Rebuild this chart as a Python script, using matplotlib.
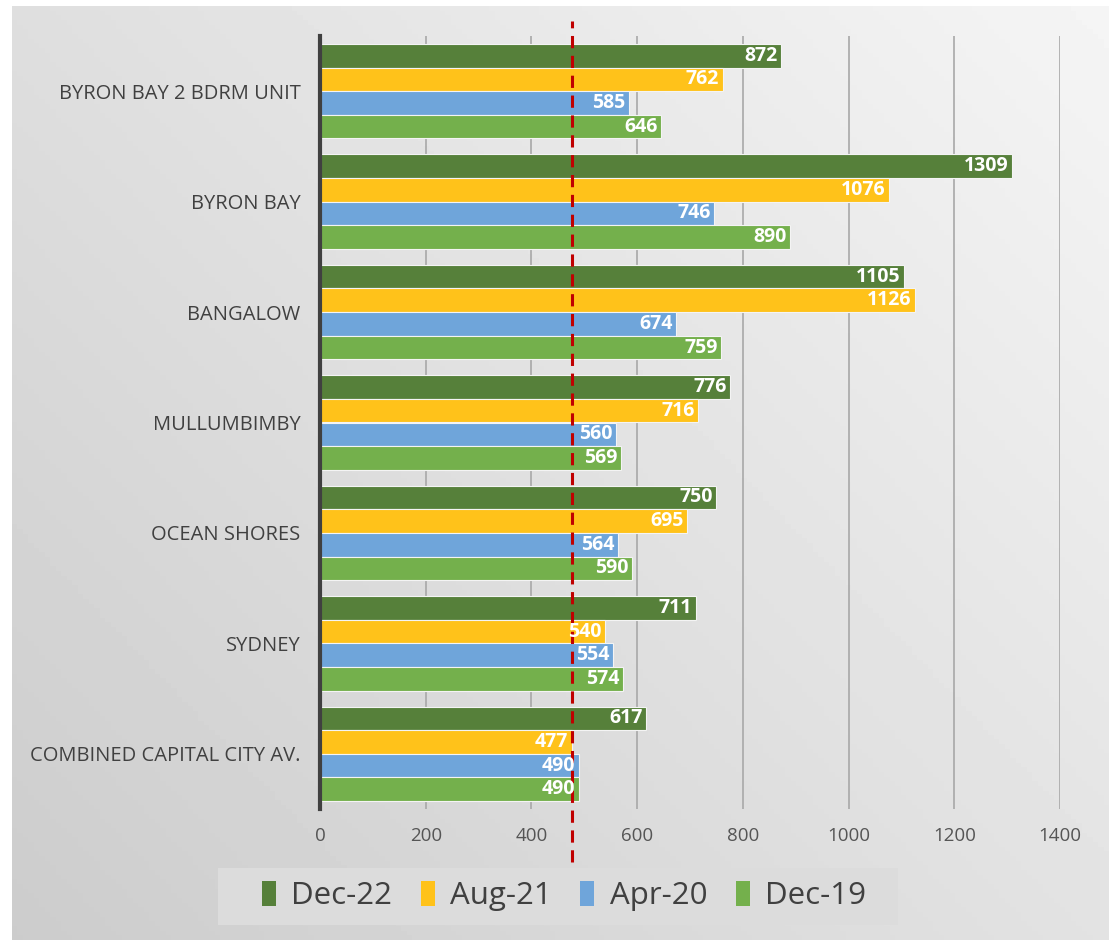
import numpy as np
import matplotlib.pyplot as plt
from matplotlib.patches import Patch, Rectangle

categories = ["BYRON BAY 2 BDRM UNIT", "BYRON BAY", "BANGALOW", "MULLUMBIMBY",
              "OCEAN SHORES", "SYDNEY", "COMBINED CAPITAL CITY AV."]
series = ["Dec-22", "Aug-21", "Apr-20", "Dec-19"]
dec22 = [872, 1309, 1105, 776, 750, 711, 617]
aug21 = [762, 1076, 1126, 716, 695, 540, 477]
apr20 = [585, 746, 674, 560, 564, 554, 490]
dec19 = [646, 890, 759, 569, 590, 574, 490]
ref_value = 477
colors = ["#56803A", "#FFC21A", "#6FA5DA", "#74B04C"]

plt.rcParams['font.family'] = ['Open Sans', 'DejaVu Sans']

W, H = 1109, 946
fig = plt.figure(figsize=(W / 100, H / 100), dpi=100)
fig.patch.set_facecolor("white")

# gradient grey panel behind the chart
bg = fig.add_axes([12 / W, 6 / H, 1 - 12 / W, 934 / H], zorder=-10)
yy, xx = np.mgrid[0:1:200j, 0:1:200j]
grad = 0.80 + 0.16 * (0.55 * xx + 0.45 * (1 - yy))
bg.imshow(grad, cmap="gray", vmin=0, vmax=1, aspect="auto", extent=[0, 1, 0, 1])
bg.axis("off")

ax = fig.add_axes([320 / W, 137 / H, 740 / W, 773 / H])
ax.patch.set_alpha(0)

y = np.arange(len(categories))
h = 0.214
vals = [dec22, aug21, apr20, dec19]
for i, (name, v, c) in enumerate(zip(series, vals, colors)):
    pos = y + (i - 1.5) * h
    ax.barh(pos, v, height=h, color=c, edgecolor="#f4f4f4",
            linewidth=0.8, label=name, zorder=2)
    for p, val in zip(pos, v):
        ax.text(val - 7, p, str(val), ha="right", va="center", color="white",
                fontsize=14, fontweight="bold", zorder=4)

ax.set_xlim(0, 1400)
ax.set_ylim(len(categories) - 0.5, -0.5)
ax.set_xticks(range(0, 1401, 200))
ax.set_yticks(y)
ax.set_yticklabels(categories, fontsize=14.5, color="#404040")
ax.tick_params(axis="x", labelsize=13.5, colors="#555555", length=0, pad=13)
ax.tick_params(axis="y", length=0, pad=14)
ax.grid(axis="x", color="#a8a8a8", linewidth=1.2, zorder=0)
ax.set_axisbelow(True)
for s in ["top", "right", "bottom"]:
    ax.spines[s].set_visible(False)
ax.spines["left"].set_color("#404040")
ax.spines["left"].set_linewidth(3)

ax.axvline(ref_value, ymin=-0.068, ymax=1.02, color="#C00000", linestyle=(0, (4, 2.5)),
           linewidth=2.2, clip_on=False, zorder=3)

# legend box
fig.patches.append(Rectangle((218 / W, 21 / H), 680 / W, 57 / H, transform=fig.transFigure,
                             facecolor="#dcdcdc", edgecolor="none", zorder=1))
handles = [Patch(facecolor=c, label=n) for n, c in zip(series, colors)]
fig.legend(handles=handles, loc="center", bbox_to_anchor=(564 / W, 1 - 896 / H),
           ncol=4, fontsize=22.5, frameon=False,
           handlelength=0.45, handleheight=0.85, handletextpad=0.5,
           columnspacing=0.9, borderaxespad=0, labelcolor="#404040")

fig.savefig("out.png", dpi=100)
plt.close(fig)
